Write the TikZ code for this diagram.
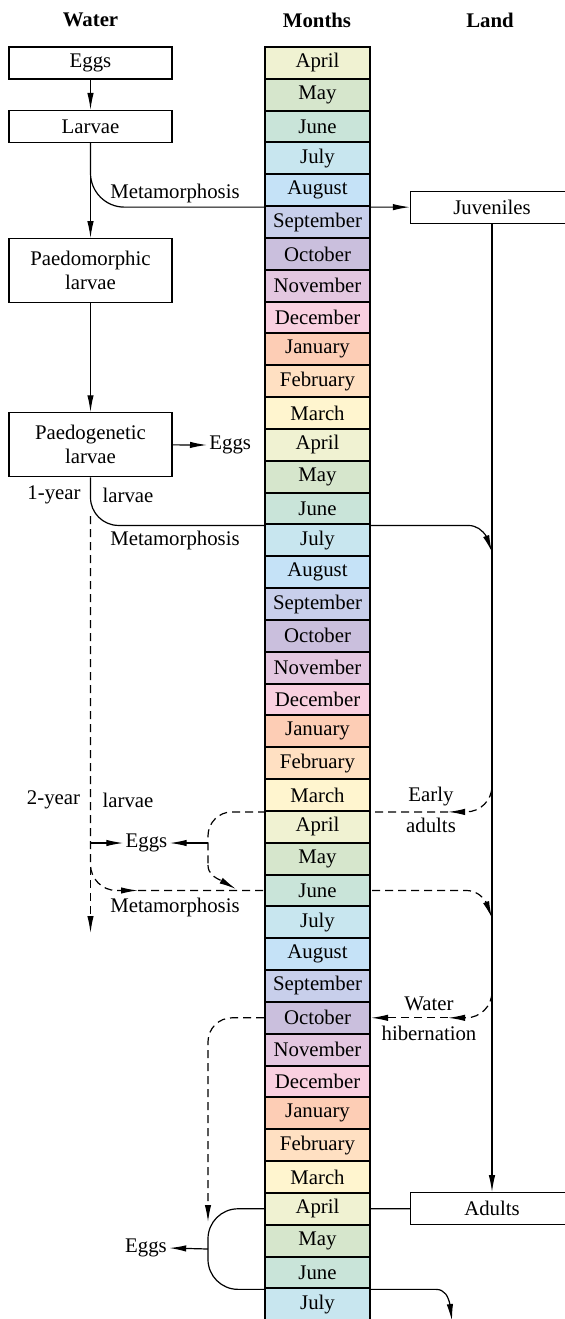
\documentclass[tikz,border=0pt]{standalone}
\usepackage{fontspec}
\setmainfont{Liberation Serif}
\usetikzlibrary{calc,positioning,arrows.meta,bending,backgrounds}

\definecolor{month0}{HTML}{F0F2D2}
\definecolor{month1}{HTML}{D6E6CC}
\definecolor{month2}{HTML}{C9E4D9}
\definecolor{month3}{HTML}{C8E6EF}
\definecolor{month4}{HTML}{C5E2F7}
\definecolor{month5}{HTML}{C8CFEB}
\definecolor{month6}{HTML}{CABFDD}
\definecolor{month7}{HTML}{E3C7E0}
\definecolor{month8}{HTML}{F9D0E0}
\definecolor{month9}{HTML}{FDCDB5}
\definecolor{month10}{HTML}{FFE0C2}
\definecolor{month11}{HTML}{FFF5CF}

\newcommand{\monthname}[1]{\ifcase#1 April\or May\or June\or July\or August\or
  September\or October\or November\or December\or January\or February\or March\fi}

\tikzset{
>={Latex[length=8.5pt,width=3.2pt]},
  stagenode/.style={
    rectangle,
    draw=black, line width=0.6pt,
    minimum width=81.5pt,
    minimum height=16pt,
    inner sep=0pt,
    align=center},
  monthnode/.style={
    rectangle,
    draw=black, line width=1pt,
    minimum width=52.5pt,
    minimum height=15.915pt,
    inner sep=0pt},
  heading/.style={font=\fontsize{10.4}{12}\selectfont\bfseries},
  tag/.style={inner sep=1pt},
  plain/.style={draw, line width=0.6pt},
  line/.style={plain, ->},
  dashline/.style={plain, dash pattern=on 4pt off 2.5pt}
}

\begin{document}
\begin{tikzpicture}
  [x=0.5pt, y=-0.5pt,
  font=\fontsize{10.4}{12}\selectfont]

  \useasboundingbox (0,0) rectangle (564,1319);

  \coordinate (wcol) at (90.5,0);
  \coordinate (lcol) at (492,0);

  \node[heading] (hwater) at (90.5,20) {Water};
  \node[heading] (hmonths) at (317,20) {Months};
  \node[heading] (hland) at (490,20) {Land};

  % month column
  \foreach \k in {0,...,39}{
    \pgfmathtruncatemacro{\j}{mod(\k,12)}
    \node[monthnode, fill=month\j] (month\k) at (317.5,{62.9+31.83*\k}) {\monthname{\j}};
  }

  \node[stagenode] (eggs) at (month0 -| wcol) {Eggs};
  \node[stagenode] (larvae) at (month2 -| wcol) {Larvae};
  \node[stagenode, minimum height=32pt] (paedomorphic) at (month6.south -| wcol) {Paedomorphic\\larvae};
  \node[stagenode, minimum height=32pt] (paedogenetic) at (month12 -| wcol) {Paedogenetic\\larvae};
  \node[stagenode] (juveniles) at (month4.south -| lcol) {Juveniles};
  \node[stagenode] (adults) at (month36 -| lcol) {Adults};

  \node[tag, anchor=west] (eggsA) at (207,445) {Eggs};
  \node[tag] (eggsB) at (146.5,843) {Eggs};
  \node[tag] (eggsC) at (146,1248) {Eggs};

  \node[tag] (meta1) at (175,193) {Metamorphosis};
  \node[tag] (meta2) at (175,540) {Metamorphosis};
  \node[tag] (meta3) at (175,907) {Metamorphosis};
  \node[tag] (year1) at (54,495) {1-year};
  \node[tag] (larv1) at (128,495) {larvae};
  \node[tag] (year2) at (53.5,800) {2-year};
  \node[tag] (larv2) at (128,800) {larvae};
  \node[tag] (early) at (431,797) {Early};
  \node[tag] (adultl) at (431,825) {adults};
  \node[tag] (waterl) at (429,1004) {Water};
  \node[tag] (hibern) at (429,1033) {hibernation};

  \coordinate (bend1) at ($(month14.south -| lcol)+(-24,0)$);
  \coordinate (land1) at (492,552);
  \coordinate (fork1) at (90.5,516);
  \coordinate (end2) at (90.5,933);
  \coordinate (mid2) at ($(month26 -| wcol)+(47.5,0)$);
  \coordinate (bend2) at ($(month26 -| lcol)+(-26,0)$);
  \coordinate (land2) at (492,918);
  \coordinate (src2) at (90.5,843);
  \coordinate (src3) at (208,843);
  \coordinate (land3) at (492,795);
  \coordinate (mid3) at ($(month23.south -| lcol)+(-44,0)$);
  \coordinate (drop3) at (208,865);
  \coordinate (join3) at (236,889);
  \coordinate (land4) at (492,1003);
  \coordinate (mid4) at ($(month30 -| lcol)+(-44,0)$);
  \coordinate (drop4) at (208,1222);
  \coordinate (low5) at (month38.south -| drop4);
  \coordinate (bend5) at ($(month38.south -| lcol)+(-56,0)$);
  \coordinate (end5) at (452,1321);
  \coordinate (src5) at (208,1249);

  \begin{scope}[on background layer]
  \draw[line] (eggs) -- (larvae);
  \draw[line] (larvae) -- (paedomorphic);
  \draw[line, rounded corners=17] (larvae.south) |- (juveniles.west);
  \draw[line] (paedomorphic) -- (paedogenetic);
  \draw[line] (paedogenetic.east) -- (eggsA.west);
  \draw[plain, rounded corners=14] (paedogenetic.south) |- (bend1);
  \draw[line] (bend1) to[out=0,in=100] (land1);
  \draw[line] (juveniles) -- (adults);

  % 2-year larvae
  \draw[dashline, ->] (fork1) -- (end2);
  \draw[dashline, ->, rounded corners=13] (fork1) |- (mid2);
  \draw[dashline, ->] (mid2) -- (bend2) to[out=0,in=100] (land2);
  \draw[line] (src2) -- (eggsB.west);

  % early adults
  \draw[dashline, ->, rounded corners=13] (land3) |- (mid3);
  \draw[dashline, rounded corners=12] (mid3) -| (drop3);
  \draw[dashline, ->] (drop3) to[out=-90,in=140] (join3);
  \draw[line] (src3) -- (eggsB.east);

  % water hibernation
  \draw[dashline, ->, rounded corners=13] (land4) |- (mid4);
  \draw[dashline, ->] (mid4) -- (month30.east);
  \draw[dashline, ->, rounded corners=12] (month30.west) -| (drop4);

  \draw[plain, rounded corners=15] (adults.west) -| (low5) -- (bend5);
  \draw[line] (bend5) to[out=0,in=95] (end5);
  \draw[line] (src5) -- (eggsC.east);
  \end{scope}
\end{tikzpicture}
\end{document}
